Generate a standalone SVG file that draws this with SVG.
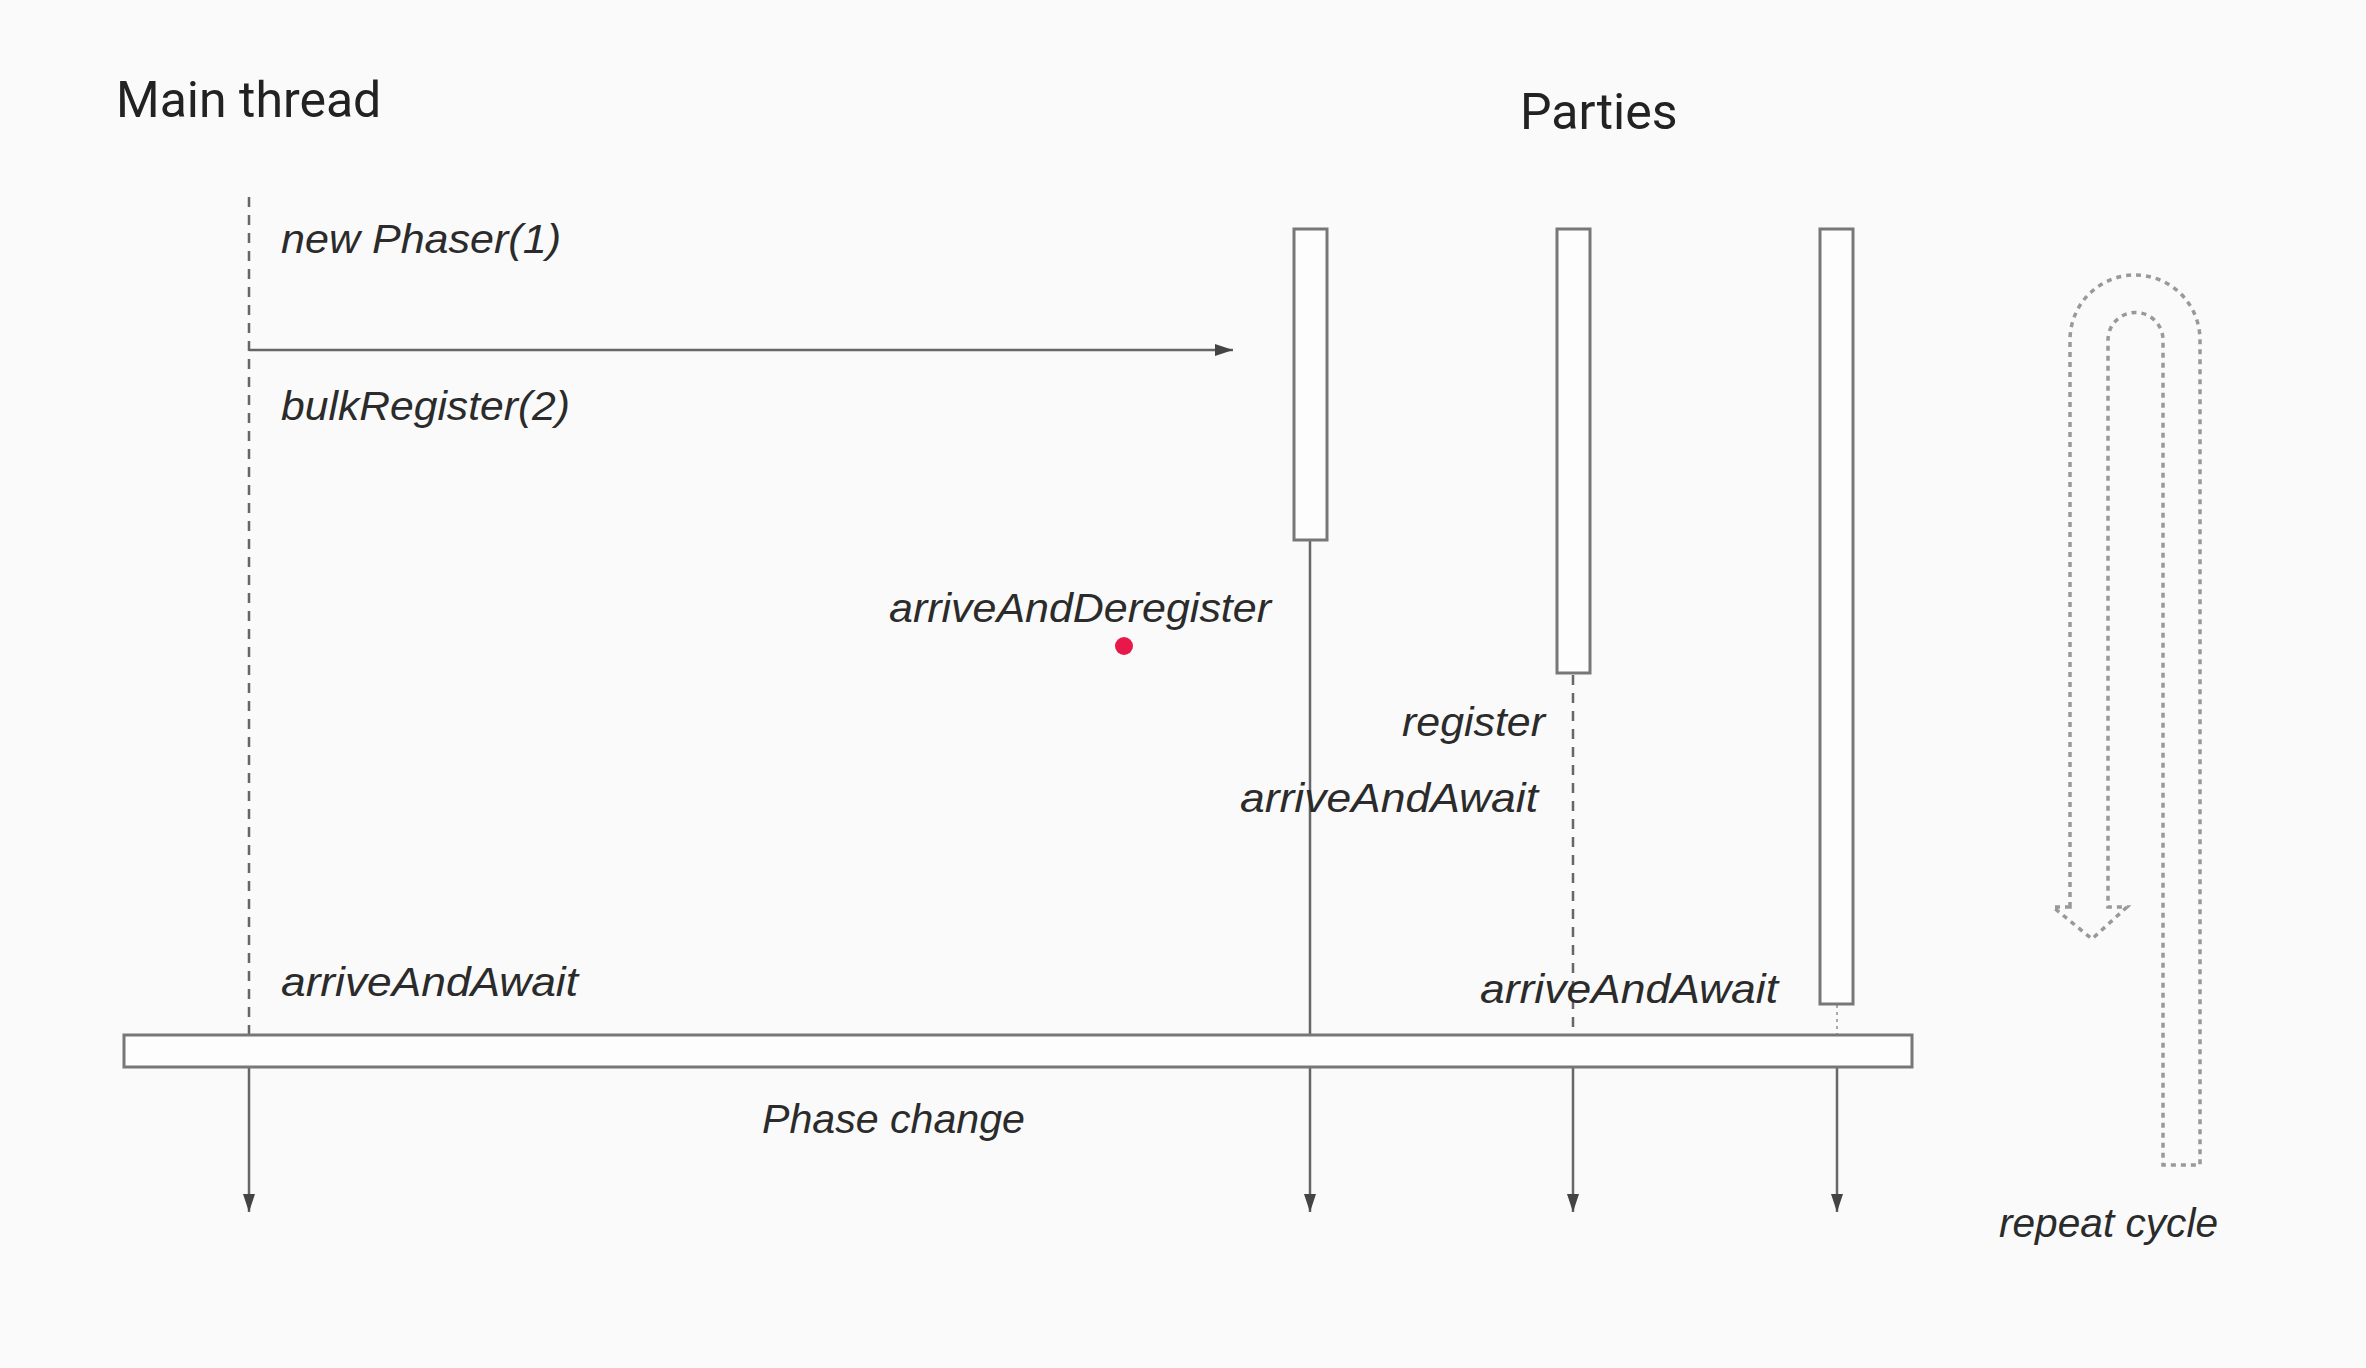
<svg xmlns="http://www.w3.org/2000/svg" width="2366" height="1368" viewBox="0 0 2366 1368">
<style>
.title{font-family:Roboto,"Liberation Sans",sans-serif;font-size:50px;fill:#222}
.hand{font-family:"Liberation Sans",sans-serif;font-style:italic;font-size:40px;fill:#2b2b2b}
.box{fill:#fdfdfd;stroke:#777;stroke-width:3}
.life{stroke:#666;stroke-width:2.5;fill:none}
.dash{stroke:#666;stroke-width:2.5;stroke-dasharray:10 8;fill:none}
.dot{stroke:#aaa;stroke-width:2;stroke-dasharray:3 4;fill:none}
.cycle{fill:none;stroke:#999;stroke-width:3.5;stroke-dasharray:5 5}
</style>
<defs>
<marker id="ah" viewBox="0 0 12 10" refX="12" refY="5" markerWidth="12" markerHeight="10" markerUnits="userSpaceOnUse" orient="auto">
<path d="M0,0 L12,5 L0,10 z" fill="#444"/>
</marker>
<marker id="ahL" viewBox="0 0 18 12" refX="18" refY="6" markerWidth="18" markerHeight="12" markerUnits="userSpaceOnUse" orient="auto">
<path d="M0,0 L18,6 L0,12 z" fill="#444"/>
</marker>
</defs>
<rect width="2366" height="1368" fill="#fafafa"/>

<g id="title-main"><text class="title" x="116" y="117">Main thread</text></g>
<g id="title-parties"><text class="title" x="1520" y="129">Parties</text></g>

<g id="connectors">
<line class="dash" x1="249" y1="197" x2="249" y2="1034"/>
<line class="life" x1="249" y1="350" x2="1233" y2="350" marker-end="url(#ahL)"/>
<line class="life" x1="1310" y1="540" x2="1310" y2="1034"/>
<line class="dash" x1="1573" y1="675" x2="1573" y2="1034"/>
<line class="dot" x1="1837" y1="1005" x2="1837" y2="1034"/>
<line class="life" x1="249" y1="1068" x2="249" y2="1212" marker-end="url(#ahL)"/>
<line class="life" x1="1310" y1="1068" x2="1310" y2="1212" marker-end="url(#ahL)"/>
<line class="life" x1="1573" y1="1068" x2="1573" y2="1212" marker-end="url(#ahL)"/>
<line class="life" x1="1837" y1="1068" x2="1837" y2="1212" marker-end="url(#ahL)"/>
</g>

<g id="party1"><rect class="box" x="1294" y="229" width="33" height="311"/></g>
<g id="party2"><rect class="box" x="1557" y="229" width="33" height="444"/></g>
<g id="party3"><rect class="box" x="1820" y="229" width="33" height="775"/></g>
<g id="phase-bar"><rect class="box" x="124" y="1035" width="1788" height="32"/></g>

<g id="labels">
<text class="hand" x="281" y="253" textLength="280" lengthAdjust="spacingAndGlyphs">new Phaser(1)</text>
<text class="hand" x="281" y="420" textLength="289" lengthAdjust="spacingAndGlyphs">bulkRegister(2)</text>
<text class="hand" x="889" y="622" textLength="382" lengthAdjust="spacingAndGlyphs">arriveAndDeregister</text>
<text class="hand" x="1402" y="736" textLength="143" lengthAdjust="spacingAndGlyphs">register</text>
<text class="hand" x="1240" y="812" textLength="298" lengthAdjust="spacingAndGlyphs">arriveAndAwait</text>
<text class="hand" x="281" y="996" textLength="297" lengthAdjust="spacingAndGlyphs">arriveAndAwait</text>
<text class="hand" x="1480" y="1003" textLength="298" lengthAdjust="spacingAndGlyphs">arriveAndAwait</text>
<text class="hand" x="762" y="1133" textLength="263" lengthAdjust="spacingAndGlyphs">Phase change</text>
<text class="hand" x="1999" y="1237" textLength="219" lengthAdjust="spacingAndGlyphs">repeat cycle</text>
</g>

<g id="pointer"><circle cx="1124" cy="646" r="9" fill="#e8194a"/></g>

<g id="repeat-cycle">
<path class="cycle" d="M2070,907 L2070,340 A65,65 0 0 1 2200,340 L2200,1165 L2163,1165 L2163,340 A27.5,27.5 0 0 0 2108,340 L2108,907 L2127,907 L2092,939 L2053,907 Z"/>
</g>
</svg>
